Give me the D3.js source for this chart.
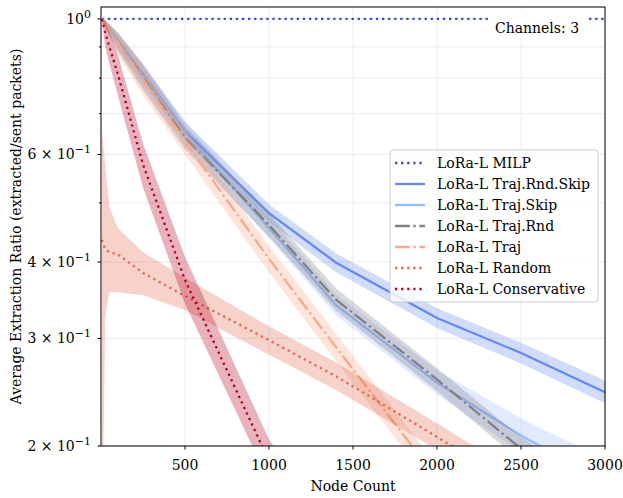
<!DOCTYPE html>
<html><head><meta charset="utf-8">
<script src="https://cdn.jsdelivr.net/npm/d3@7"></script>
<style>body{margin:0;background:#fff}</style></head>
<body><svg id="c" width="623" height="498"></svg>
<script>
// ---------------- data ----------------
const nodeCounts = [5, 25, 50, 100, 250, 500, 1000, 1400, 2000, 2500, 3000];

const milpMean = [1, 1, 1, 1, 1, 1, 1, 1, 1, 1, 1];
const milpLo   = [1, 1, 1, 1, 1, 1, 1, 1, 1, 1, 1];
const milpHi   = [1, 1, 1, 1, 1, 1, 1, 1, 1, 1, 1];

const trajRndSkipMean = [1.0, 0.984, 0.963, 0.922, 0.813, 0.655, 0.481, 0.399, 0.324, 0.284, 0.245];
const trajRndSkipLo   = [1.0, 0.975, 0.945, 0.895, 0.785, 0.632, 0.465, 0.385, 0.312, 0.273, 0.235];
const trajRndSkipHi   = [1.0, 0.990, 0.980, 0.950, 0.845, 0.678, 0.497, 0.413, 0.336, 0.295, 0.256];

const trajSkipMean = [1.0, 0.984, 0.962, 0.920, 0.806, 0.650, 0.455, 0.340, 0.254, 0.208, 0.175];
const trajSkipLo   = [1.0, 0.970, 0.940, 0.890, 0.770, 0.620, 0.438, 0.327, 0.243, 0.195, 0.160];
const trajSkipHi   = [1.0, 0.995, 0.980, 0.945, 0.840, 0.680, 0.473, 0.354, 0.266, 0.222, 0.190];

const trajRndMean = [1.0, 0.983, 0.961, 0.918, 0.802, 0.640, 0.460, 0.347, 0.257, 0.198, 0.160];
const trajRndLo   = [1.0, 0.970, 0.940, 0.885, 0.765, 0.612, 0.440, 0.333, 0.246, 0.189, 0.152];
const trajRndHi   = [1.0, 0.995, 0.980, 0.948, 0.840, 0.668, 0.480, 0.362, 0.268, 0.207, 0.168];

const trajMean = [1.0, 0.982, 0.959, 0.915, 0.796, 0.630, 0.405, 0.290, 0.177, 0.130, 0.100];
const trajLo   = [1.0, 0.965, 0.935, 0.875, 0.750, 0.600, 0.385, 0.275, 0.168, 0.123, 0.095];
const trajHi   = [1.0, 0.995, 0.980, 0.950, 0.840, 0.660, 0.425, 0.305, 0.186, 0.137, 0.105];

const randomMean = [0.435, 0.420, 0.415, 0.412, 0.384, 0.352, 0.298, 0.260, 0.207, 0.170, 0.140];
const randomLo   = [0.120, 0.325, 0.357, 0.357, 0.353, 0.334, 0.282, 0.247, 0.197, 0.161, 0.133];
const randomHi   = [0.665, 0.577, 0.492, 0.455, 0.415, 0.377, 0.314, 0.274, 0.218, 0.179, 0.148];

const conservativeMean = [1.0, 0.950, 0.900, 0.813, 0.578, 0.374, 0.189, 0.130, 0.080, 0.060, 0.045];
const conservativeLo   = [1.0, 0.900, 0.845, 0.750, 0.530, 0.342, 0.175, 0.117, 0.072, 0.054, 0.040];
const conservativeHi   = [1.0, 0.990, 0.955, 0.875, 0.625, 0.408, 0.205, 0.143, 0.088, 0.066, 0.050];

const seriesNames = ["LoRa-L MILP", "LoRa-L Traj.Rnd.Skip", "LoRa-L Traj.Skip", "LoRa-L Traj.Rnd",
                     "LoRa-L Traj", "LoRa-L Random", "LoRa-L Conservative"];
const xTicks = [500, 1000, 1500, 2000, 2500, 3000];
const yMajorTicks = [0.2, 0.3, 0.4, 0.6, 1.0];
const yMajorLabels = [["2", "\u22121"], ["3", "\u22121"], ["4", "\u22121"], ["6", "\u22121"], [null, "0"]];
const yMinorTicks = [0.5, 0.7, 0.8, 0.9];
const annotation = "Channels: 3";
const xLabel = "Node Count";
const yLabel = "Average Extraction Ratio (extracted/sent packets)";

// ---------------- styles ----------------
const lw = 2.3;
const dotted = `${lw},${(lw*1.65).toFixed(2)}`;
const dashdot = [6.4, 1.6, 1, 1.6].map(d => (d*lw).toFixed(2)).join(",");
const series = [
  {name: seriesNames[0], mean: milpMean, lo: milpLo, hi: milpHi, color: "#3b4cc0", dash: dotted},
  {name: seriesNames[1], mean: trajRndSkipMean, lo: trajRndSkipLo, hi: trajRndSkipHi, color: "#6788ee", dash: null},
  {name: seriesNames[2], mean: trajSkipMean, lo: trajSkipLo, hi: trajSkipHi, color: "#9abbff", dash: null},
  {name: seriesNames[3], mean: trajRndMean, lo: trajRndLo, hi: trajRndHi, color: "#808080", dash: dashdot},
  {name: seriesNames[4], mean: trajMean, lo: trajLo, hi: trajHi, color: "#f7a889", dash: dashdot},
  {name: seriesNames[5], mean: randomMean, lo: randomLo, hi: randomHi, color: "#e26952", dash: dotted},
  {name: seriesNames[6], mean: conservativeMean, lo: conservativeLo, hi: conservativeHi, color: "#b40426", dash: dotted},
];

const font = "'DejaVu Serif', serif";
const fs = 14;
const svg = d3.select("#c");
const L = 101, R = 605, T = 7, B = 446;
const x = d3.scaleLinear().domain([0, 3000]).range([L, R]);
const y = d3.scaleLog().domain([0.2, 1.046]).range([B, T]);

svg.append("rect").attr("width", 623).attr("height", 498).attr("fill", "#fff");

svg.append("defs").append("clipPath").attr("id", "clip")
  .append("rect").attr("x", L).attr("y", T).attr("width", R - L).attr("height", B - T);

// grid
const grid = svg.append("g").attr("stroke", "#ebebeb").attr("stroke-width", 1);
xTicks.forEach(t => grid.append("line").attr("x1", x(t)).attr("x2", x(t)).attr("y1", T).attr("y2", B));
yMajorTicks.concat(yMinorTicks).forEach(t => grid.append("line").attr("x1", L).attr("x2", R).attr("y1", y(t)).attr("y2", y(t)));

const plot = svg.append("g").attr("clip-path", "url(#clip)");
const area = d3.area().x((d, i) => x(nodeCounts[i])).y0(d => y(d[0])).y1(d => y(d[1]));
const line = d3.line().x((d, i) => x(nodeCounts[i])).y(d => y(d));

series.forEach(s => {
  const band = s.lo.map((v, i) => [v, s.hi[i]]);
  plot.append("path").attr("d", area(band)).attr("fill", s.color).attr("fill-opacity", 0.3).attr("stroke", "none");
  plot.append("path").attr("d", line(s.mean)).attr("fill", "none").attr("stroke", s.color)
    .attr("stroke-width", lw).attr("stroke-dasharray", s.dash).attr("stroke-linecap", "butt");
});

// annotation with white box
const ann = svg.append("g");
ann.append("rect").attr("x", 488).attr("y", 10).attr("width", 98).attr("height", 28).attr("fill", "#fff");
ann.append("text").attr("x", 537).attr("y", 33).attr("text-anchor", "middle")
  .attr("font-family", font).attr("font-size", fs).text(annotation);

// spines
svg.append("rect").attr("x", L).attr("y", T).attr("width", R - L).attr("height", B - T)
  .attr("fill", "none").attr("stroke", "#000").attr("stroke-width", 1);

// x axis ticks
const xa = svg.append("g").attr("font-family", font).attr("font-size", fs);
xTicks.forEach(t => {
  xa.append("line").attr("x1", x(t)).attr("x2", x(t)).attr("y1", B).attr("y2", B + 3.5).attr("stroke", "#000");
  xa.append("text").attr("x", x(t)).attr("y", B + 24).attr("text-anchor", "middle").text(t);
});
xa.append("text").attr("x", (L + R) / 2).attr("y", 491).attr("text-anchor", "middle").text(xLabel);

// y axis ticks
const ya = svg.append("g").attr("font-family", font).attr("font-size", fs);
yMajorTicks.forEach((t, i) => {
  ya.append("line").attr("x1", L - 3.5).attr("x2", L).attr("y1", y(t)).attr("y2", y(t)).attr("stroke", "#000");
  const lab = yMajorLabels[i];
  const tx = ya.append("text").attr("x", L - 10).attr("y", y(t) + 5).attr("text-anchor", "end");
  tx.append("tspan").text(lab[0] ? lab[0] + " \u00d7 10" : "10");
  tx.append("tspan").attr("font-size", 11).attr("dy", -6).text(lab[1]);
});
yMinorTicks.forEach(t => {
  ya.append("line").attr("x1", L - 2).attr("x2", L).attr("y1", y(t)).attr("y2", y(t)).attr("stroke", "#000");
});
ya.append("text").attr("transform", `translate(21,${(T + B) / 2}) rotate(-90)`)
  .attr("text-anchor", "middle").text(yLabel);

// legend
const lg = svg.append("g").attr("font-family", font).attr("font-size", fs);
lg.append("rect").attr("x", 390).attr("y", 150).attr("width", 208).attr("height", 152).attr("rx", 3)
  .attr("fill", "#fff").attr("fill-opacity", 0.8).attr("stroke", "#cccccc").attr("stroke-width", 1);
series.forEach((s, i) => {
  const cy = 163 + i * 21;
  lg.append("line").attr("x1", 395).attr("x2", 425).attr("y1", cy).attr("y2", cy)
    .attr("stroke", s.color).attr("stroke-width", lw).attr("stroke-dasharray", s.dash);
  lg.append("text").attr("x", 437).attr("y", cy + 5).text(s.name);
});
</script>
</body></html>
